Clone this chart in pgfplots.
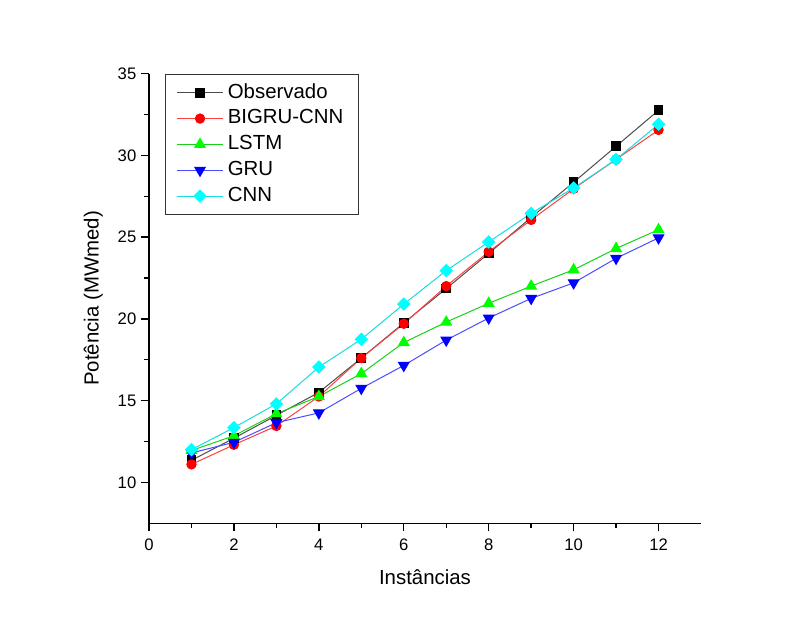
\documentclass[border=0pt]{standalone}
\usepackage{fontspec}
\setmainfont{Liberation Sans}
\usepackage{pgfplots}
\pgfplotsset{compat=1.18}

\definecolor{ored}{RGB}{255,0,0}
\definecolor{ogreen}{RGB}{0,255,0}
\definecolor{oblue}{RGB}{0,0,255}
\definecolor{ocyan}{RGB}{0,255,255}

\begin{document}
\begin{tikzpicture}
\begin{axis}[
    at={(0,0)}, anchor=south west,
    scale only axis, width=414pt, height=337.3pt,
    xmin=0, xmax=13, ymin=7.5, ymax=35,
    axis lines*=left,
    axis line style={line width=1.1pt},
    xtick={0,2,...,12}, ytick={10,15,...,35},
    minor x tick num=1, minor y tick num=1,
    tick align=outside,
    major tick length=6pt, minor tick length=3.5pt,
    tick style={line width=1pt, black},
    ticklabel style={font=\fontsize{12.5}{14}\selectfont},
    xticklabel style={yshift=-2pt},
    /pgf/number format/assume math mode=true,
    xlabel={Instâncias}, ylabel={Potência (MWmed)},
    label style={font=\fontsize{15.3}{18}\selectfont},
    x label style={at={(axis description cs:0.5,-0.12)}, anchor=center},
    y label style={at={(axis description cs:-0.101,0.5)}, anchor=center},
    legend cell align=left,
    legend style={at={(rel axis cs:0.029,1)}, anchor=north west,
        draw=black!80, line width=0.75pt,
        font=\fontsize{15.3}{18}\selectfont,
        inner xsep=8pt, inner ysep=6pt, row sep=3.4pt,
        nodes={text height=11pt, text depth=3pt, inner ysep=1pt, inner xsep=3pt}},
    legend image code/.code={\draw[mark repeat=2,mark phase=2] plot coordinates {(0pt,0pt) (17.5pt,0pt) (35pt,0pt)};},
]
\addplot[black!70, line width=0.75pt, mark=square*, mark size=3.25pt,
    mark options={draw=black, fill=black, solid}] coordinates {
    (1,11.35)(2,12.7)(3,14.1)(4,15.5)(5,17.6)(6,19.75)(7,21.85)(8,24.0)(9,26.2)(10,28.35)(11,30.55)(12,32.75)};
\addplot[ored!75, line width=0.75pt, mark=*, mark size=3.5pt,
    mark options={draw=ored, fill=ored, solid}] coordinates {
    (1,11.1)(2,12.3)(3,13.45)(4,15.25)(5,17.6)(6,19.7)(7,22.0)(8,24.1)(9,26.05)(10,27.95)(11,29.75)(12,31.55)};
\addplot[ogreen!80!black!90, line width=0.75pt, mark=triangle*, mark size=4.5pt,
    mark options={draw=ogreen, fill=ogreen, solid}] coordinates {
    (1,11.95)(2,12.85)(3,14.2)(4,15.25)(5,16.65)(6,18.55)(7,19.8)(8,20.95)(9,22.0)(10,23.0)(11,24.3)(12,25.45)};
\addplot[oblue!70, line width=0.75pt, mark=triangle*, mark size=4.5pt,
    mark options={draw=oblue, fill=oblue, solid, rotate=180}] coordinates {
    (1,11.8)(2,12.45)(3,13.65)(4,14.25)(5,15.75)(6,17.15)(7,18.7)(8,20.05)(9,21.25)(10,22.2)(11,23.7)(12,24.95)};
\addplot[ocyan!85!black!90, line width=0.75pt, mark=square*, mark size=3.2pt,
    mark options={draw=ocyan, fill=ocyan, solid, rotate=45}] coordinates {
    (1,12.0)(2,13.35)(3,14.8)(4,17.05)(5,18.75)(6,20.9)(7,22.95)(8,24.7)(9,26.45)(10,28.0)(11,29.75)(12,31.9)};
\legend{Observado, BIGRU-CNN, LSTM, GRU, CNN}
\end{axis}
\pgfresetboundingbox
\path[use as bounding box] (-111.75pt,-73.3pt) rectangle ++(598.5pt,465.75pt);
\end{tikzpicture}
\end{document}
